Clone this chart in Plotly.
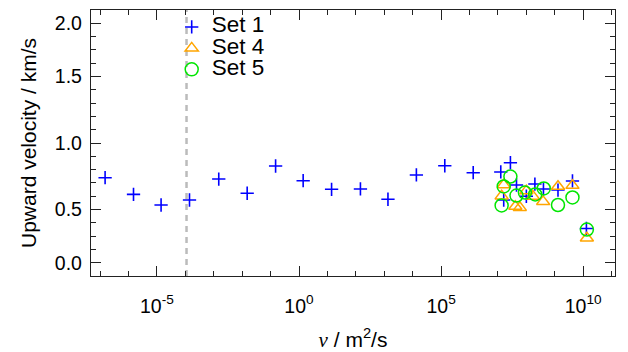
import plotly.graph_objects as go

# ---------------- data ----------------
set1_nu = [1.5e-7, 1.5e-6, 1.4e-5, 1.4e-4, 1.5e-3, 1.5e-2, 0.15, 1.4, 14, 145,
           1.35e3, 1.35e4, 1.35e5, 1.35e6,
           2.75e7, 1.26e7, 4.5e7, 1.6e7, 1.0e8, 2.0e8, 4.0e8, 1.3e9, 4.2e9, 1.3e10]
set1_v = [0.710, 0.571, 0.482, 0.524, 0.699, 0.580, 0.808, 0.685, 0.613, 0.616,
          0.530, 0.733, 0.810, 0.752,
          0.835, 0.758, 0.649, 0.524, 0.555, 0.657, 0.616, 0.607, 0.683, 0.286]

set4_nu = [1.6e7, 1.35e7, 4.1e7, 5.9e7, 1.0e8, 1.7e8, 3.9e8, 1.3e9, 4.2e9, 1.35e10]
set4_v = [0.650, 0.557, 0.470, 0.461, 0.600, 0.555, 0.510, 0.637, 0.645, 0.206]

set5_nu = [2.75e7, 1.6e7, 1.35e7, 4.5e7, 8.9e7, 2.05e8, 4.1e8, 1.3e9, 4.2e9, 1.35e10]
set5_v = [0.720, 0.637, 0.478, 0.561, 0.586, 0.570, 0.620, 0.482, 0.545, 0.277]

dash_nu = 1.1e-4

x_tickvals = [1e-5, 1e0, 1e5, 1e10]
x_ticktext = ["10<sup>-5</sup>", "10<sup>0</sup>", "10<sup>5</sup>", "10<sup>10</sup>"]
x_range_log = [-7.32, 11.12]

y_tickvals = [0, 4 / 9, 1, 14 / 9, 2]
y_ticktext = ["0.0", "0.5", "1.0", "1.5", "2.0"]
y_range = [-1 / 9, 2 + 1 / 9]
y_minor_step = 1 / 9

series_names = ["Set 1", "Set 4", "Set 5"]

# ---------------- figure ----------------
FONT = "Liberation Sans, Arial, Helvetica, sans-serif"
BLUE = "#0000ff"
ORANGE = "#ffa500"
GREEN = "#00e600"
AX = "#222222"


def legend_label(s):
    return '<span style="font-size:22.5px">' + s + '</span>'


fig = go.Figure()

fig.add_trace(go.Scatter(
    x=[dash_nu, dash_nu], y=y_range, mode="lines",
    line=dict(color="#bbbbbb", width=2.5, dash="6px,5px"),
    showlegend=False, hoverinfo="skip"))

fig.add_trace(go.Scatter(
    x=set1_nu, y=set1_v, mode="markers",
    name=legend_label(series_names[0]),
    marker=dict(symbol="cross-thin-open", size=9.5,
                line=dict(color=BLUE, width=1.6), color=BLUE)))

fig.add_trace(go.Scatter(
    x=set4_nu, y=set4_v, mode="markers",
    name=legend_label(series_names[1]),
    marker=dict(symbol="triangle-up-open", size=11.5,
                line=dict(color=ORANGE, width=1.5), color=ORANGE)))

fig.add_trace(go.Scatter(
    x=set5_nu, y=set5_v, mode="markers",
    name=legend_label(series_names[2]),
    marker=dict(symbol="circle-open", size=13,
                line=dict(color=GREEN, width=1.5), color=GREEN)))

fig.update_layout(
    width=628, height=352,
    margin=dict(l=91, r=13, t=10, b=76, autoexpand=False),
    paper_bgcolor="white", plot_bgcolor="white",
    font=dict(family=FONT, color="black", size=19.5),
    showlegend=True,
    legend=dict(x=0.154, y=0.995, xanchor="left", yanchor="top",
                bgcolor="rgba(0,0,0,0)", borderwidth=0,
                font=dict(size=14, family=FONT, color="black"),
                itemsizing="trace", tracegroupgap=0),
    xaxis=dict(
        type="log", range=x_range_log, automargin=False,
        tickmode="array", tickvals=x_tickvals, ticktext=x_ticktext,
        ticks="inside", ticklen=10, tickwidth=1.2, tickcolor=AX,
        showline=True, linecolor=AX, linewidth=1.3, mirror="ticks",
        showgrid=False, zeroline=False,
        ticklabelstandoff=12,
        tickfont=dict(size=19.5, family=FONT, color="black"),
        minor=dict(tickmode="linear", tick0=0, dtick=1, ticks="inside",
                   ticklen=5, tickwidth=1.2, tickcolor=AX, showgrid=False),
        title=dict(text='<span style="font-family:Liberation Serif, serif"><i>ν</i></span> / m<sup>2</sup>/s',
                   standoff=18,
                   font=dict(size=21, family=FONT, color="black")),
    ),
    yaxis=dict(
        range=y_range, automargin=False,
        tickmode="array", tickvals=y_tickvals, ticktext=y_ticktext,
        ticks="inside", ticklen=10, tickwidth=1.2, tickcolor=AX,
        showline=True, linecolor=AX, linewidth=1.3, mirror="ticks",
        showgrid=False, zeroline=False,
        ticklabelstandoff=4,
        tickfont=dict(size=19.5, family=FONT, color="black"),
        minor=dict(tickmode="linear", tick0=0, dtick=y_minor_step, ticks="inside",
                   ticklen=5, tickwidth=1.2, tickcolor=AX, showgrid=False),
        title=dict(text="Upward velocity / km/s", standoff=12,
                   font=dict(size=21, family=FONT, color="black")),
    ),
)

fig.write_html("out.html")
